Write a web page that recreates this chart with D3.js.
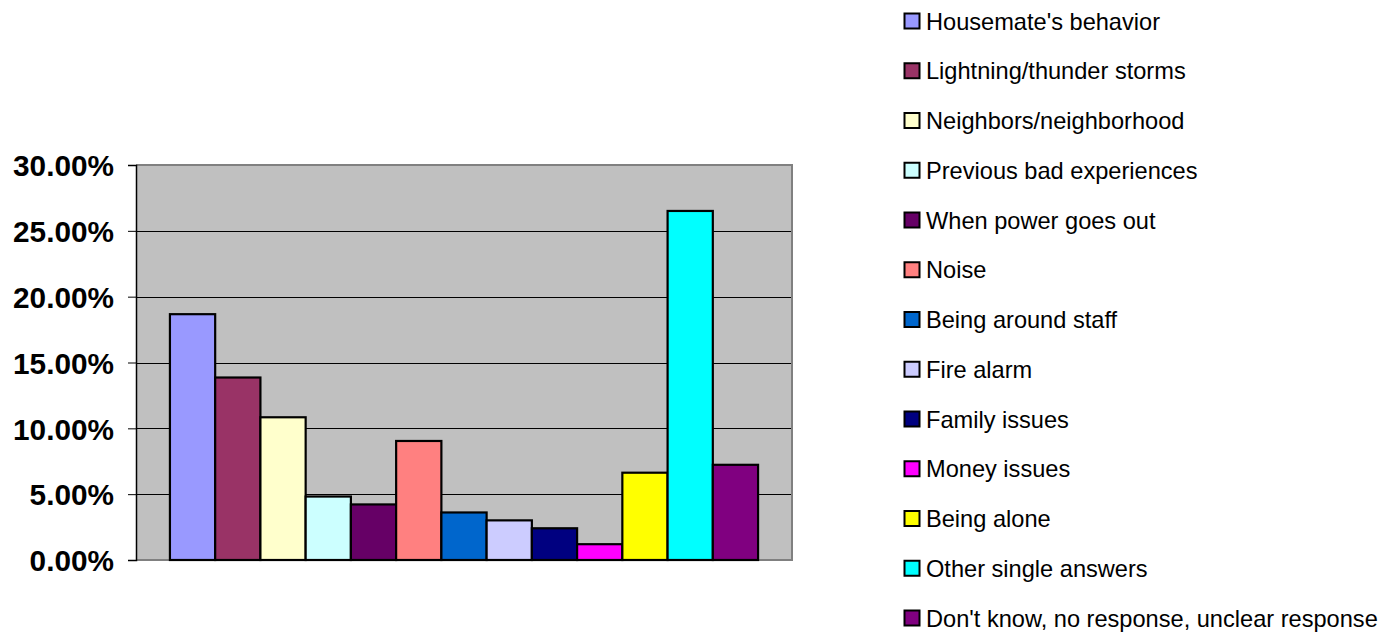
<!DOCTYPE html>
<html>
<head>
<meta charset="utf-8">
<script src="https://cdn.jsdelivr.net/npm/d3@7"></script>
<style>
  html, body { margin: 0; padding: 0; background: #fff; }
  svg { display: block; }
</style>
</head>
<body>
<svg id="chart" width="1388" height="633"></svg>
<script>
// ---- data ----
const categories = ["Fears"];
const seriesNames = [
  "Housemate's behavior",
  "Lightning/thunder storms",
  "Neighbors/neighborhood",
  "Previous bad experiences",
  "When power goes out",
  "Noise",
  "Being around staff",
  "Fire alarm",
  "Family issues",
  "Money issues",
  "Being alone",
  "Other single answers",
  "Don't know, no response, unclear response"
];
const seriesValues = [0.1867, 0.1386, 0.1084, 0.0482, 0.0422, 0.0904, 0.0361, 0.0301, 0.0241, 0.0120, 0.0663, 0.2651, 0.0723];
const seriesColors = ["#9999FF", "#993366", "#FFFFCC", "#CCFFFF", "#660066", "#FF8080", "#0066CC", "#CCCCFF", "#000080", "#FF00FF", "#FFFF00", "#00FFFF", "#800080"];
const yTicks = [0, 0.05, 0.10, 0.15, 0.20, 0.25, 0.30];

// ---- layout ----
const plot = { left: 136, right: 792, top: 165, bottom: 560 };
const svg = d3.select("#chart");

const y = d3.scaleLinear().domain([0, 0.30]).range([plot.bottom, plot.top]);
const x0 = d3.scaleBand().domain(categories).range([plot.left, plot.right]).padding(0);
const x1 = d3.scaleBand().domain(seriesNames).range([0, x0.bandwidth()]).paddingInner(0).paddingOuter(0.75);

// plot background
svg.append("rect")
  .attr("x", plot.left).attr("y", plot.top)
  .attr("width", plot.right - plot.left).attr("height", plot.bottom - plot.top)
  .attr("fill", "#C0C0C0");

// gridlines
svg.append("g").selectAll("line")
  .data(yTicks.filter(t => t > 0 && t < 0.30))
  .join("line")
  .attr("x1", plot.left).attr("x2", plot.right)
  .attr("y1", d => Math.round(y(d)) + 0.5).attr("y2", d => Math.round(y(d)) + 0.5)
  .attr("stroke", "#000").attr("stroke-width", 1);

// plot border (top/right/bottom gray)
svg.append("path")
  .attr("d", `M${plot.left},${plot.top}H${plot.right}V${plot.bottom}H${plot.left}`)
  .attr("fill", "none").attr("stroke", "#808080").attr("stroke-width", 2);

// bars
const g = svg.append("g").attr("transform", `translate(${x0(categories[0])},0)`);
g.selectAll("rect")
  .data(seriesNames.map((n, i) => ({ name: n, value: seriesValues[i], color: seriesColors[i] })))
  .join("rect")
  .attr("x", d => x1(d.name))
  .attr("y", d => y(d.value))
  .attr("width", x1.bandwidth())
  .attr("height", d => plot.bottom - y(d.value))
  .attr("fill", d => d.color)
  .attr("stroke", "#000")
  .attr("stroke-width", 2.2);

// y axis
const yAxis = d3.axisLeft(y).tickValues(yTicks).tickFormat(d3.format(".2%")).tickSize(8).tickPadding(14);
const ax = svg.append("g").attr("transform", `translate(${plot.left},0)`).call(yAxis);
ax.select(".domain").attr("stroke", "#000").attr("stroke-width", 1.5);
ax.selectAll(".tick line").attr("stroke", "#000");
const yLabels = ax.selectAll(".tick text")
  .attr("fill", "#000")
  .attr("font-family", "'Liberation Sans', Arial, sans-serif")
  .attr("font-weight", "bold")
  .attr("font-size", 25)
  .attr("dy", "0.36em");
// fit width of widest label ("30.00%") to ~101px
{
  let maxW = 0;
  yLabels.each(function () { maxW = Math.max(maxW, this.getComputedTextLength()); });
  if (maxW > 0) yLabels.attr("font-size", 25 * 101 / maxW);
}

// legend
const legendX = 904;
const legendY0 = 21;
const legendStep = 49.75;
const leg = svg.append("g");
const items = leg.selectAll("g")
  .data(seriesNames.map((n, i) => ({ name: n, color: seriesColors[i] })))
  .join("g")
  .attr("transform", (d, i) => `translate(${legendX},${legendY0 + i * legendStep})`);
items.append("rect")
  .attr("x", 0.5).attr("y", -7.5)
  .attr("width", 15).attr("height", 15)
  .attr("fill", d => d.color)
  .attr("stroke", "#000").attr("stroke-width", 2);
const legTexts = items.append("text")
  .attr("x", 22)
  .attr("y", 0)
  .attr("dy", "0.36em")
  .attr("font-family", "'Liberation Sans', Arial, sans-serif")
  .attr("font-size", 21.5)
  .attr("fill", "#000")
  .text(d => d.name);
// fit longest legend label to ~452px
{
  let maxW = 0;
  legTexts.each(function () { maxW = Math.max(maxW, this.getComputedTextLength()); });
  if (maxW > 0) legTexts.attr("font-size", 21.5 * 452 / maxW);
}
</script>
</body>
</html>
